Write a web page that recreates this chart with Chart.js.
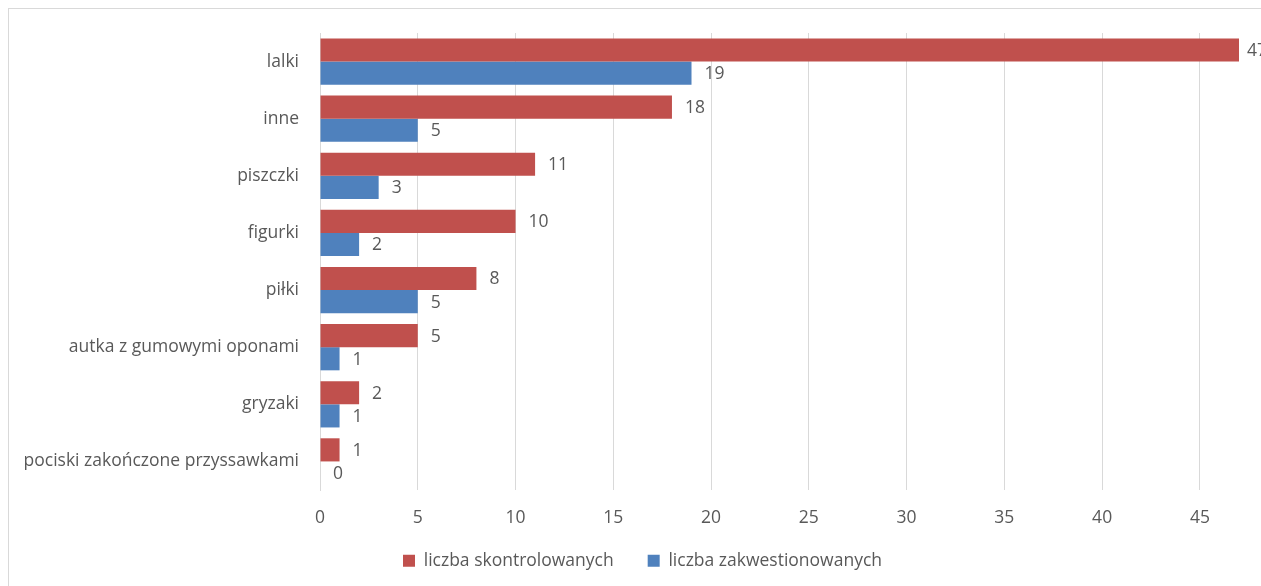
<!DOCTYPE html>
<html>
<head>
<meta charset="utf-8">
<script src="https://cdn.jsdelivr.net/npm/chart.js@4"></script>
<style>
  html, body { margin: 0; padding: 0; background: #fff; overflow: hidden; }
  #wrap { position: relative; width: 1261px; height: 586px; }
  #frame { position: absolute; left: 8px; top: 8px; width: 1400px; height: 700px; border: 1px solid #d9d9d9; }
  canvas { position: absolute; left: 0; top: 0; }
</style>
</head>
<body>
<div id="wrap">
  <div id="frame"></div>
  <canvas id="myChart" width="1261" height="586"></canvas>
</div>
<script>
const categories = ['lalki', 'inne', 'piszczki', 'figurki', 'piłki', 'autka z gumowymi oponami', 'gryzaki', 'pociski zakończone przyssawkami'];
const skontrolowane = [47, 18, 11, 10, 8, 5, 2, 1];
const zakwestionowane = [19, 5, 3, 2, 5, 1, 1, 0];
const xTicks = [0, 5, 10, 15, 20, 25, 30, 35, 40, 45];

const FONT = "'Open Sans', sans-serif";
const SIZE = 17.5;
const GREY = '#595959';

// value next to the end of each bar
const valueLabels = {
  id: 'valueLabels',
  afterDatasetsDraw(chart) {
    const ctx = chart.ctx;
    ctx.save();
    ctx.font = SIZE + 'px ' + FONT;
    ctx.fillStyle = GREY;
    ctx.textAlign = 'left';
    ctx.textBaseline = 'middle';
    chart.data.datasets.forEach((ds, i) => {
      chart.getDatasetMeta(i).data.forEach((bar, j) => {
        const x = Math.min(bar.x + 13, chart.chartArea.right + 8);
        ctx.fillText(String(ds.data[j]), x, bar.y + 1);
      });
    });
    ctx.restore();
  }
};

// keep the legend short and move it where the original has it
const legendPlace = {
  id: 'legendPlace',
  afterInit(chart) {
    const lg = chart.legend;
    const fit = lg.fit.bind(lg);
    lg.fit = function () { fit(); this.height = 46; };
  },
  afterLayout(chart) {
    const lg = chart.legend;
    lg.left += 23; lg.right += 23;
    lg.top -= 22;
    lg.bottom = chart.height;
    lg.height = lg.bottom - lg.top;
  }
};

const ctx = document.getElementById('myChart').getContext('2d');
const chart = new Chart(ctx, {
  type: 'bar',
  data: {
    labels: categories,
    datasets: [
      { label: 'liczba skontrolowanych', data: skontrolowane, backgroundColor: '#C0504D' },
      { label: 'liczba zakwestionowanych', data: zakwestionowane, backgroundColor: '#4F81BD' }
    ]
  },
  options: {
    indexAxis: 'y',
    responsive: false,
    animation: false,
    devicePixelRatio: 1,
    layout: { padding: { left: 0, right: 22, top: 33, bottom: 0 } },
    datasets: { bar: { categoryPercentage: 0.81, barPercentage: 1 } },
    scales: {
      x: {
        min: 0,
        max: 47,
        afterBuildTicks: scale => { scale.ticks = xTicks.map(v => ({ value: v })); },
        afterFit: scale => { scale.height = 50; },
        grid: { color: '#d9d9d9', drawTicks: false },
        border: { display: false },
        ticks: { color: GREY, padding: 18, font: { family: FONT, size: SIZE } }
      },
      y: {
        afterFit: scale => { scale.width = 320; },
        grid: { display: false },
        border: { color: '#d9d9d9', width: 1 },
        ticks: { color: GREY, padding: 13, font: { family: FONT, size: SIZE } }
      }
    },
    plugins: {
      legend: {
        position: 'bottom',
        labels: { color: GREY, boxWidth: 12, boxHeight: 12, padding: 34, font: { family: FONT, size: SIZE } }
      },
      tooltip: { enabled: false }
    }
  },
  plugins: [valueLabels, legendPlace]
});
</script>
</body>
</html>
